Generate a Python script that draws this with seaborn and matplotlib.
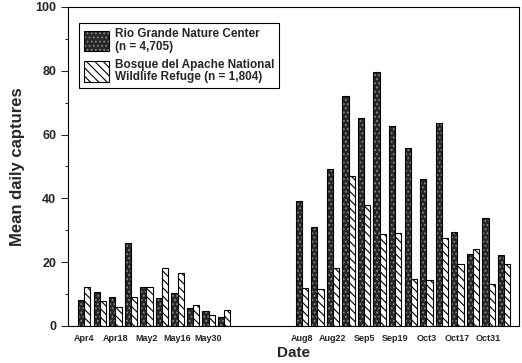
import numpy as np
import pandas as pd
import matplotlib
matplotlib.use("Agg")
import matplotlib.pyplot as plt
from matplotlib.ticker import MultipleLocator
from matplotlib.colors import to_rgba
import seaborn as sns

# ---- data ----
left_dates = ["Apr4", "Apr11", "Apr18", "Apr25", "May2", "May9", "May16", "May23", "May30", "Jun6"]
right_dates = ["Aug8", "Aug15", "Aug22", "Aug29", "Sep5", "Sep12", "Sep19", "Sep26",
               "Oct3", "Oct10", "Oct17", "Oct24", "Oct31", "Nov7"]
rio_left = [8.2, 10.7, 9.2, 26.1, 12.3, 8.7, 10.2, 5.7, 4.8, 2.9]
bosque_left = [12.1, 7.9, 5.9, 9.0, 12.1, 18.1, 16.5, 6.6, 3.4, 5.0]
rio_right = [39.3, 30.9, 49.1, 72.1, 65.2, 79.7, 62.7, 55.9, 46.0, 63.5, 29.6, 22.5, 33.8, 22.3]
bosque_right = [12.0, 11.7, 18.1, 47.1, 37.9, 28.8, 29.1, 14.6, 14.4, 27.5, 19.3, 24.1, 13.2, 19.3]
tick_labels = ["Apr4", "Apr18", "May2", "May16", "May30",
               "Aug8", "Aug22", "Sep5", "Sep19", "Oct3", "Oct17", "Oct31"]
series_names = ["Rio Grande Nature Center\n(n = 4,705)",
                "Bosque del Apache National\nWildlife Refuge (n = 1,804)"]

# ---- layout of weekly slots (gap of 4 empty slots between the seasons) ----
dates = left_dates + right_dates
slots = list(range(len(left_dates))) + list(range(len(left_dates) + 4, len(left_dates) + 4 + len(right_dates)))
slot_of = dict(zip(dates, slots))

df = pd.DataFrame({
    "date": dates * 2,
    "slot": slots * 2,
    "site": [series_names[0]] * len(dates) + [series_names[1]] * len(dates),
    "value": rio_left + rio_right + bosque_left + bosque_right,
})

sns.set_style("ticks")
plt.rcParams["font.family"] = ["Liberation Sans", "DejaVu Sans"]
plt.rcParams["hatch.linewidth"] = 0.8

fig = plt.figure(figsize=(5.22, 3.63), dpi=100)
ax = fig.add_axes([0.130, 0.102, 0.864, 0.879])

sns.barplot(data=df, x="slot", y="value", hue="site", hue_order=series_names,
            native_scale=True, width=0.8, errorbar=None,
            palette=["#262626", "white"], edgecolor="black", linewidth=0.8,
            legend=False, ax=ax)

hatches = ["....", "\\\\\\\\"]
hatch_cols = ["#8a8a8a", "black"]
for cont, h, hc in zip(ax.containers, hatches, hatch_cols):
    for bar in cont:
        bar.set_edgecolor("black")
        bar.set_hatch(h)
        bar._hatch_color = to_rgba(hc)

ax.set_xlim(-1.05, 27.95)
ax.set_ylim(0, 100)
ax.set_xticks([slot_of[d] for d in tick_labels])
ax.set_xticklabels(tick_labels, fontsize=6.5, fontweight="bold")
ax.tick_params(axis="x", length=0, pad=6)
ax.yaxis.set_major_locator(MultipleLocator(20))
ax.yaxis.set_minor_locator(MultipleLocator(10))
ax.tick_params(axis="y", which="major", length=5, width=0.8, labelsize=9, direction="out")
ax.tick_params(axis="y", which="minor", length=2.5, width=0.8, direction="out")
for lbl in ax.get_yticklabels():
    lbl.set_fontweight("bold")

for s in ax.spines.values():
    s.set_linewidth(0.8)
    s.set_color("black")

ax.set_xlabel("Date", fontsize=11, fontweight="bold", labelpad=2)
ax.set_ylabel("Mean daily captures", fontsize=12, fontweight="bold", labelpad=7)

handles = [cont.patches[0] for cont in ax.containers]
leg = ax.legend(handles, series_names, loc="upper left", bbox_to_anchor=(0.024, 0.95),
                borderaxespad=0, prop={"weight": "bold", "size": 8.5},
                frameon=True, fancybox=False, edgecolor="black", framealpha=1,
                handlelength=2.1, handleheight=2.25, labelspacing=0.5, borderpad=0.45,
                handletextpad=0.5)
leg.get_frame().set_linewidth(0.8)
for t in leg.get_texts():
    t.set_linespacing(1.05)

fig.savefig("out.png", dpi=100)
